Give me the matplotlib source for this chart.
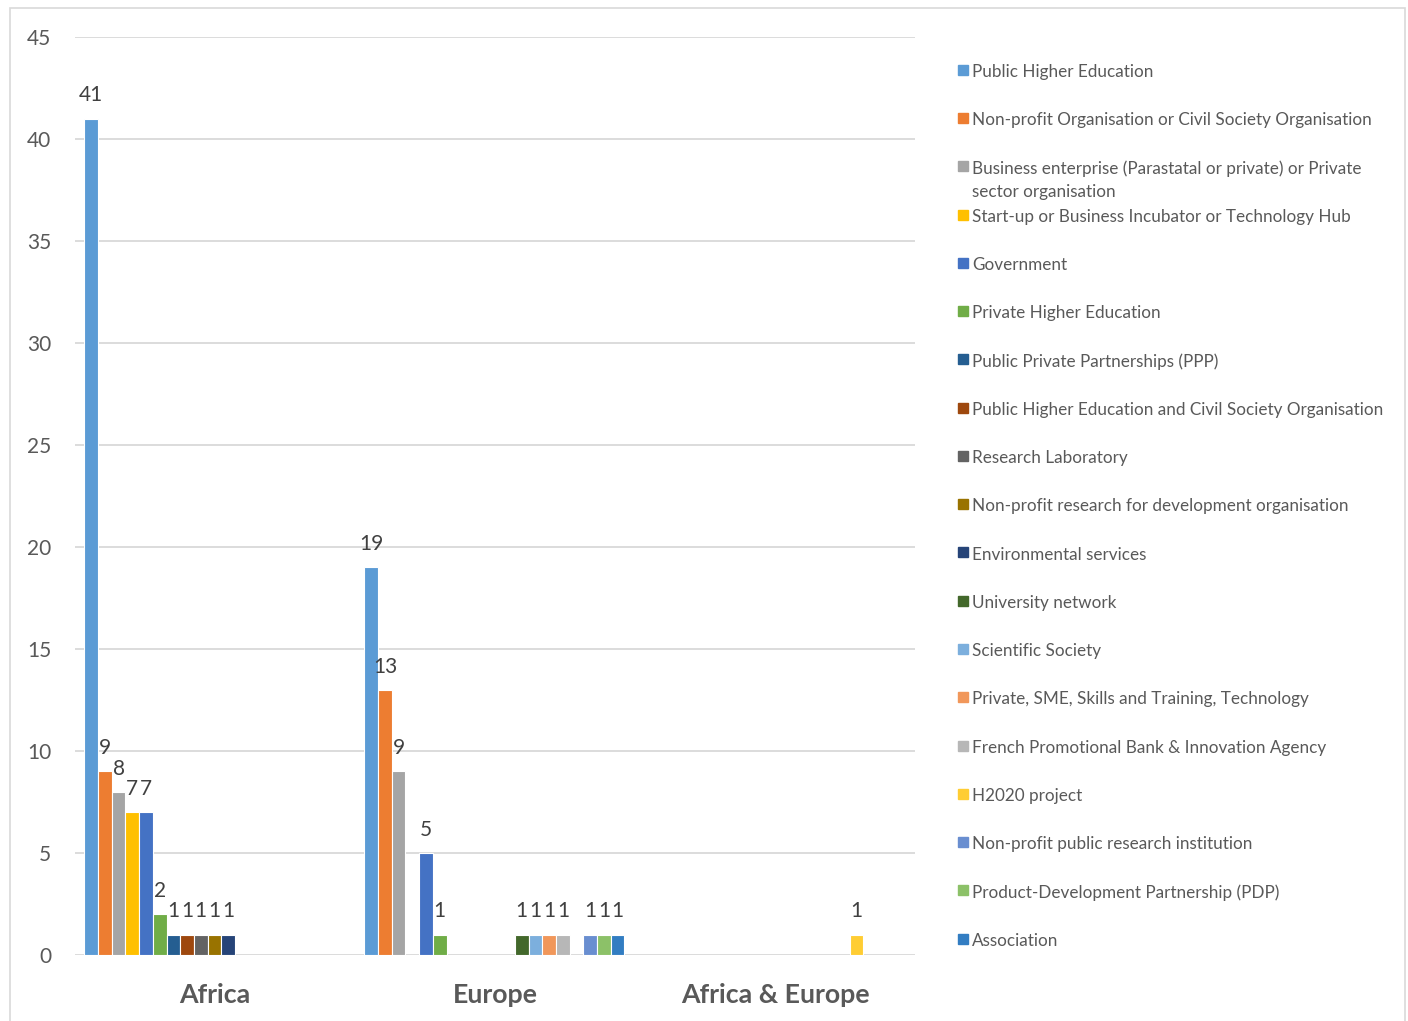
import matplotlib
matplotlib.use("Agg")
import matplotlib.pyplot as plt
import numpy as np
from matplotlib.patches import Rectangle

plt.rcParams['font.family'] = ['Lato', 'DejaVu Sans']

categories = ["Africa", "Europe", "Africa & Europe"]
series_names = [
    "Public Higher Education",
    "Non-profit Organisation or Civil Society Organisation",
    "Business enterprise (Parastatal or private) or Private\nsector organisation",
    "Start-up or Business Incubator or Technology Hub",
    "Government",
    "Private Higher Education",
    "Public Private Partnerships (PPP)",
    "Public Higher Education and Civil Society Organisation",
    "Research Laboratory",
    "Non-profit research for development organisation",
    "Environmental services",
    "University network",
    "Scientific Society",
    "Private, SME, Skills and Training, Technology",
    "French Promotional Bank & Innovation Agency",
    "H2020 project",
    "Non-profit public research institution",
    "Product-Development Partnership (PDP)",
    "Association",
]
# values per series: [Africa, Europe, Africa & Europe]
africa = [41, 9, 8, 7, 7, 2, 1, 1, 1, 1, 1, 0, 0, 0, 0, 0, 0, 0, 0]
europe = [19, 13, 9, 0, 5, 1, 0, 0, 0, 0, 0, 1, 1, 1, 1, 0, 1, 1, 1]
africa_europe = [0, 0, 0, 0, 0, 0, 0, 0, 0, 0, 0, 0, 0, 0, 0, 1, 0, 0, 0]
y_ticks = [0, 5, 10, 15, 20, 25, 30, 35, 40, 45]

colors = ["#5B9BD5", "#ED7D31", "#A5A5A5", "#FFC000", "#4472C4", "#70AD47",
          "#255E91", "#9E480E", "#636363", "#997300", "#264478", "#43682B",
          "#7CAFDD", "#F1975A", "#B7B7B7", "#FFCD33", "#698ED0", "#8CC168",
          "#327DC2"]

W, H = 1408, 1021
fig = plt.figure(figsize=(W / 100, H / 100), dpi=100)
ax = fig.add_axes([75 / W, 1 - 955 / H, (915 - 75) / W, (955 - 37) / H])

data = np.array([africa, europe, africa_europe]).T  # series x category
n = len(series_names)
x = np.arange(len(categories))
bw = 1 / (n + 1.46)
for i in range(n):
    offs = x - 0.5 + 0.73 * bw + (i + 0.5) * bw - 0.002
    vals = data[i]
    mask = vals > 0
    bars = ax.bar(offs[mask], vals[mask], width=bw, color=colors[i],
                  edgecolor="white", linewidth=0.8, zorder=3)
    for b, v in zip(bars, vals[mask]):
        ax.annotate(str(v), (b.get_x() + b.get_width() / 2, v),
                    xytext=(0, 9.5), textcoords="offset points",
                    ha="center", va="bottom", fontsize=15, color="#404040")

ax.set_xlim(-0.5, 2.5)
ax.set_ylim(0, 45)
ax.set_yticks(y_ticks)
ax.set_yticklabels([str(t) for t in y_ticks], fontsize=15, color="#595959")
ax.set_xticks(x)
ax.set_xticklabels(categories, fontsize=19.3, fontweight="bold", color="#595959")
ax.tick_params(axis="both", length=0)
ax.tick_params(axis="y", pad=17)
ax.tick_params(axis="x", pad=20)
ax.grid(axis="y", color="#D9D9D9", linewidth=1.3, zorder=0)
ax.set_axisbelow(True)
for s in ax.spines.values():
    s.set_visible(False)

# legend (Excel style, fixed pitch)
top = 70
pitch = 48.25
for i, name in enumerate(series_names):
    yc = top + i * pitch
    fig.patches.append(Rectangle((958 / W, 1 - (yc + 5) / H), 10 / W, 10 / H,
                                 transform=fig.transFigure, color=colors[i]))
    fig.text(972 / W, 1 - (yc - 6) / H, name, fontsize=12.3, color="#595959",
             ha="left", va="top", linespacing=1.5)

# chart border
fig.patches.append(Rectangle((10 / W, -0.01), (1405 - 10) / W, 1 - 8 / H + 0.01,
                             transform=fig.transFigure, fill=False,
                             edgecolor="#D9D9D9", linewidth=1.2))

fig.savefig("out.png", dpi=100)
